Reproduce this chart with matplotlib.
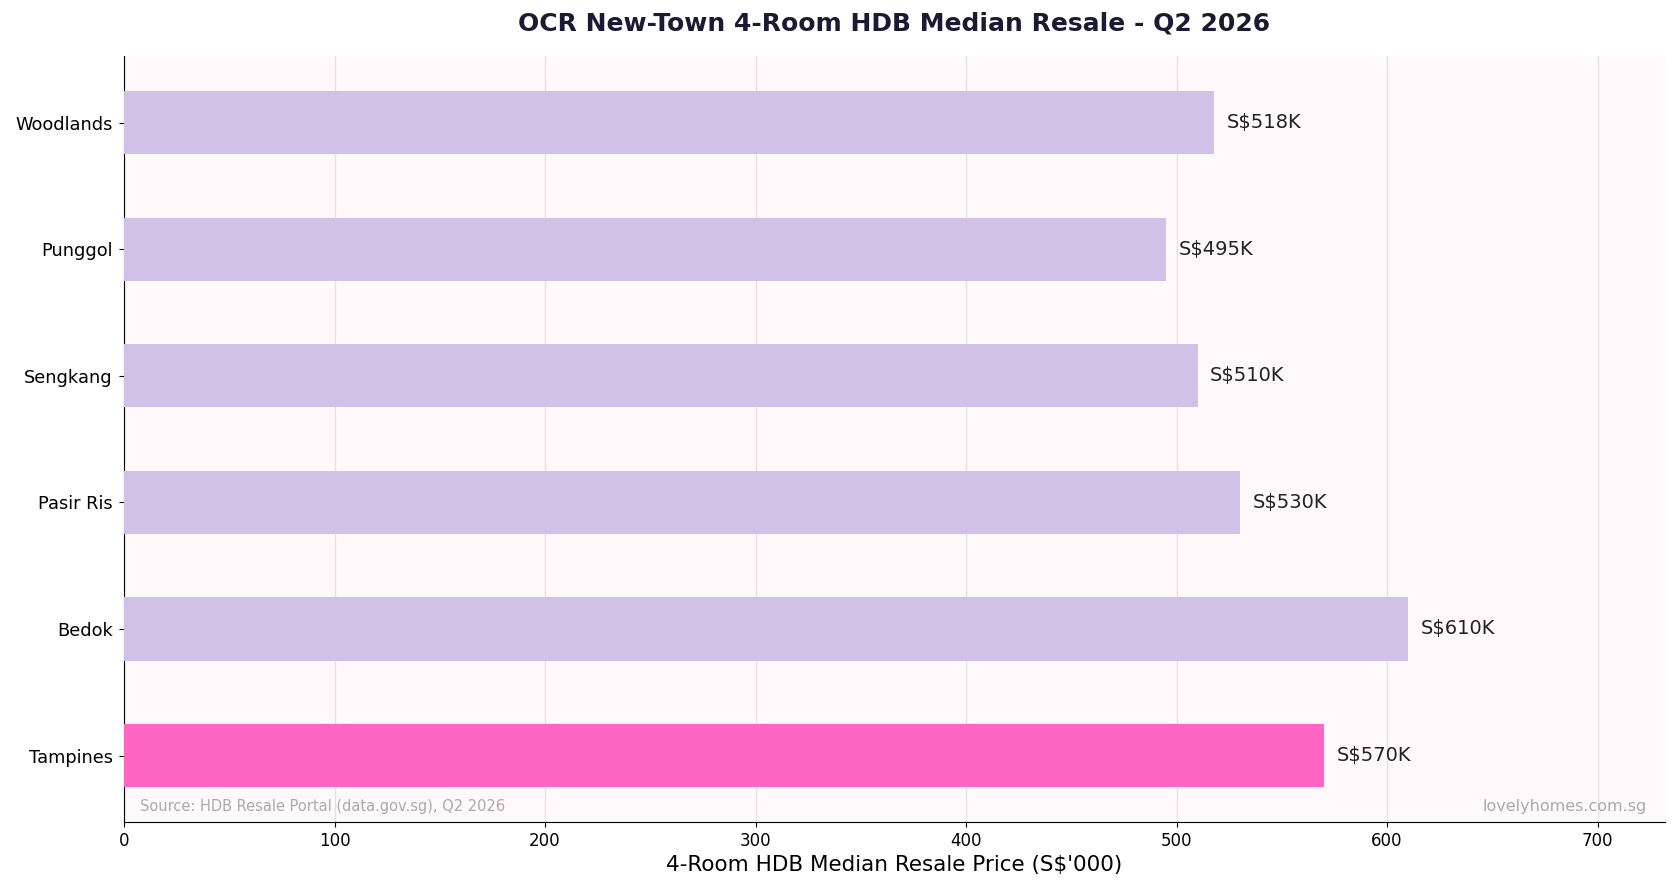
import matplotlib.pyplot as plt

# towns bottom -> top
towns = ["Tampines", "Bedok", "Pasir Ris", "Sengkang", "Punggol", "Woodlands"]
prices = [570, 610, 530, 510, 495, 518]
highlight = "Tampines"

base_color = "#D1C1E6"
hi_color = "#FF66C4"

fig = plt.figure(figsize=(16.76, 8.92), dpi=100)
ax_box = [0.074, 0.0785, 0.9194, 0.8585]
ax = fig.add_axes(ax_box)
ax.set_facecolor("#FFF9FB")

colors = [hi_color if t == highlight else base_color for t in towns]
ax.barh(towns, prices, height=0.5, color=colors, zorder=3)

for i, v in enumerate(prices):
    ax.text(v + 6, i, "S$%dK" % v, va="center", ha="left", fontsize=14, color="#222222", zorder=4)

ax.set_xlim(0, max(prices) * 1.2)
ax.grid(axis="x", color="#E4E0E4", linewidth=1, zorder=0)
ax.set_axisbelow(True)
for s in ["top", "right"]:
    ax.spines[s].set_visible(False)
ax.tick_params(axis="x", labelsize=12)
ax.tick_params(axis="y", labelsize=12.8, pad=4.5)
ax.set_xlabel("4-Room HDB Median Resale Price (S$'000)", fontsize=15.5, labelpad=4)

# title centred over the axes, not the figure
fig.text(ax_box[0] + ax_box[2] / 2, 0.9735, "OCR New-Town 4-Room HDB Median Resale - Q2 2026",
         fontsize=18, fontweight="bold", color="#1B1A33", ha="center", va="center")

ax.text(0.0105, 0.01, "Source: HDB Resale Portal (data.gov.sg), Q2 2026", transform=ax.transAxes,
        fontsize=10.5, color="#AAAAAA", ha="left", va="bottom")
ax.text(0.988, 0.01, "lovelyhomes.com.sg", transform=ax.transAxes,
        fontsize=11.5, color="#AAAAAA", ha="right", va="bottom")

fig.savefig("out.png", dpi=100, facecolor="white")
